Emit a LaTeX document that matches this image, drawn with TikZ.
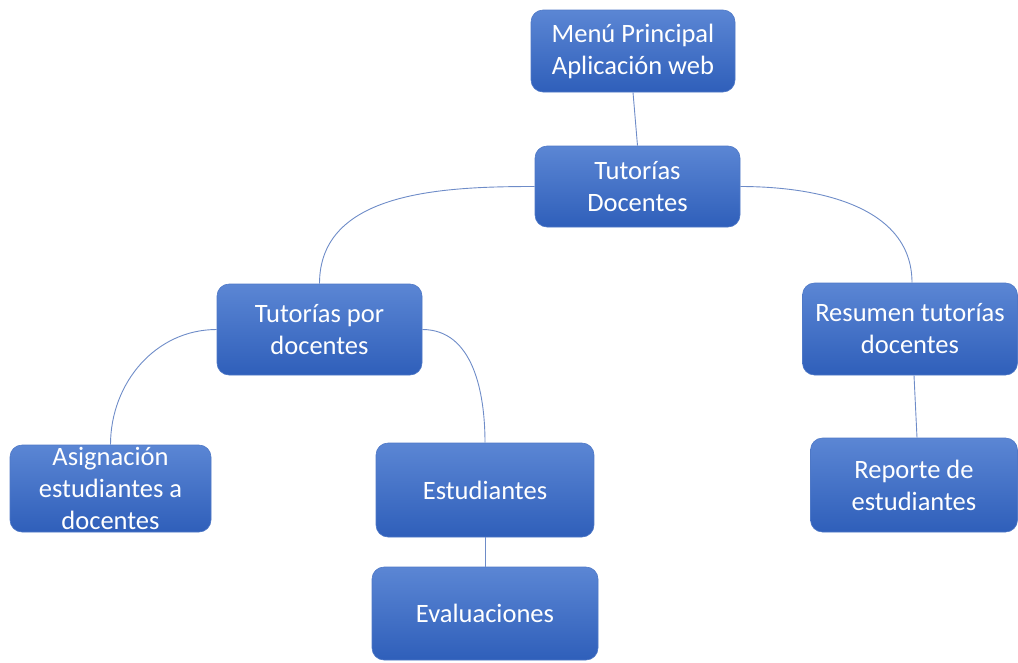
\documentclass[tikz,border=0pt]{standalone}
\usepackage{fontspec}
\setmainfont{Carlito}
\definecolor{boxtop}{HTML}{5B86D4}
\definecolor{boxbot}{HTML}{2F5FBA}
\definecolor{boxline}{HTML}{4E78C6}
\definecolor{conn}{HTML}{6E8CC8}
\tikzset{
  box/.style={rectangle, rounded corners=12pt, top color=boxtop, bottom color=boxbot,
    draw=boxline, line width=0.6pt, text=white, align=center, inner sep=0pt,
    font=\fontsize{26.5}{32}\selectfont},
  conn/.style={draw=conn, line width=0.9pt}
}
\begin{document}
\begin{tikzpicture}[x=1pt,y=-1pt]
\useasboundingbox (0,0) rectangle (1018,662);
\node[box, minimum width=204pt, minimum height=82pt] (menu) at (633,51) {Menú Principal\\Aplicación web};
\node[box, minimum width=205pt, minimum height=81pt] (td) at (637.5,186.5) {Tutorías\\Docentes};
\node[box, minimum width=205pt, minimum height=91pt] (tpd) at (319.5,329.5) {Tutorías por\\docentes};
\node[box, minimum width=215pt, minimum height=92pt] (res) at (910,329) {Resumen tutorías\\docentes};
\node[box, minimum width=201pt, minimum height=87pt] (asig) at (110.5,488.5) {Asignación\\estudiantes a\\docentes};
\node[box, minimum width=218pt, minimum height=94pt] (est) at (485,490) {Estudiantes};
\node[box, minimum width=226pt, minimum height=93pt] (eva) at (485,613.5) {Evaluaciones};
\node[box, minimum width=207pt, minimum height=94pt] (rep) at (914,485) {Reporte de\\estudiantes};
\draw[conn] (menu.south) -- (td.north);
\draw[conn] (td.west) to[out=180,in=90] (tpd.north);
\draw[conn] (td.east) to[out=0,in=90] ([xshift=2pt]res.north);
\draw[conn] (tpd.west) to[out=180,in=90] (asig.north);
\draw[conn] (tpd.east) to[out=0,in=90] (est.north);
\draw[conn] (est.south) -- (eva.north);
\draw[conn] ([xshift=4pt]res.south) -- ([xshift=3pt]rep.north);
\end{tikzpicture}
\end{document}
